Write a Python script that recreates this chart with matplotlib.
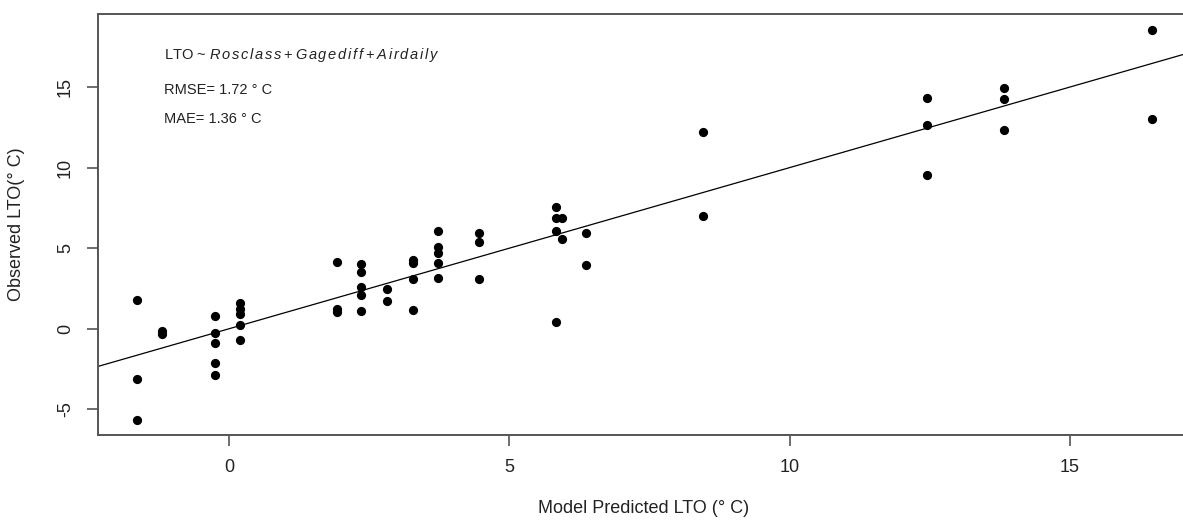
import numpy as np
import matplotlib
matplotlib.use("Agg")
import matplotlib.pyplot as plt

# Model predicted LTO (x) and observed LTO (y)
pred_lto = [-1.65, -1.65, -1.65,
            -1.20, -1.20,
            -0.25, -0.25, -0.25, -0.25, -0.25,
            0.19, 0.19, 0.19, 0.19, 0.19,
            1.92, 1.92, 1.92,
            2.35, 2.35, 2.35, 2.35, 2.35,
            2.81, 2.81,
            3.28, 3.28, 3.28, 3.28,
            3.73, 3.73, 3.73, 3.73, 3.73,
            4.45, 4.45, 4.45,
            5.83, 5.83, 5.83, 5.83,
            5.94, 5.94,
            6.36, 6.36,
            8.45, 8.45,
            12.45, 12.45, 12.45,
            13.82, 13.82, 13.82,
            16.47, 16.47]
obs_lto = [1.80, -3.13, -5.68,
           -0.12, -0.30,
           0.79, -0.29, -0.87, -2.14, -2.84,
           1.58, 1.22, 0.91, 0.23, -0.70,
           4.13, 1.22, 1.01,
           4.02, 3.50, 2.57, 2.12, 1.08,
           2.47, 1.72,
           4.29, 4.09, 3.07, 1.14,
           6.06, 5.06, 4.69, 4.06, 3.13,
           5.93, 5.40, 3.07,
           7.55, 6.89, 6.06, 0.44,
           6.85, 5.58,
           5.97, 3.98,
           12.22, 6.97,
           14.29, 12.65, 9.52,
           14.92, 14.23, 12.32,
           18.56, 13.00]

x_ticks = [0, 5, 10, 15]
y_ticks = [-5, 0, 5, 10, 15]

predictors = ['Rosclass', 'Gagediff', 'Airdaily']

# fitted line of observed on predicted
fit_intercept, fit_slope = 0.0, 1.0

rmse = 1.72
mae = 1.36

plt.rcParams['font.family'] = ['Liberation Sans', 'DejaVu Sans']
plt.rcParams['mathtext.fontset'] = 'custom'
plt.rcParams['mathtext.rm'] = 'Liberation Sans'
plt.rcParams['mathtext.it'] = 'Liberation Sans:italic'

fig = plt.figure(figsize=(11.83, 5.2), dpi=100)
ax = fig.add_axes([0.0826, 0.1629, 0.9174, 0.8102])

ax.scatter(pred_lto, obs_lto, s=44, color='black', zorder=3, linewidths=0)
ax.axline((0, fit_intercept), slope=fit_slope, color='black', lw=0.9)

ax.set_xlim(-2.342, 17.014)
ax.set_ylim(-6.61, 19.53)
ax.set_xticks(x_ticks)
ax.set_yticks(y_ticks)
ax.set_yticklabels([str(v) for v in y_ticks], rotation=90, va='center')

for side in ['left', 'bottom', 'top']:
    ax.spines[side].set_color('#555555')
    ax.spines[side].set_linewidth(1.4)
ax.spines['right'].set_visible(False)
ax.tick_params(direction='out', length=8, width=1.2, color='#555555',
               labelsize=13, labelcolor='#222222')
ax.tick_params(axis='x', pad=9)
ax.tick_params(axis='y', pad=9)

ax.set_xlabel('Model Predicted LTO (° C)', fontsize=13, color='#222222')
ax.xaxis.set_label_coords(0.503, -0.1726)
ax.xaxis.label.set_va('center')
ax.set_ylabel('Observed LTO(° C)', fontsize=13, color='#222222')
ax.yaxis.set_label_coords(-0.0744, 0.5)
ax.yaxis.label.set_va('center')

# R plotmath style italic with loose letter spacing
def spaced(word):
    return r'\hspace{0.14}'.join(r'\mathit{%s}' % c for c in word)

formula = 'LTO ~ $' + r'\hspace{0.05}+\hspace{0.05}'.join(spaced(p) for p in predictors) + '$'
ax.text(0.0611, 0.9027, formula,
        transform=ax.transAxes, fontsize=10.5, va='center', color='#222222')
ax.text(0.0611, 0.8207, 'RMSE= {:.2f} ° C'.format(rmse),
        transform=ax.transAxes, fontsize=10.5, va='center', color='#222222')
ax.text(0.0611, 0.750, 'MAE= {:.2f} ° C'.format(mae),
        transform=ax.transAxes, fontsize=10.5, va='center', color='#222222')

fig.savefig('out.png', dpi=100)
